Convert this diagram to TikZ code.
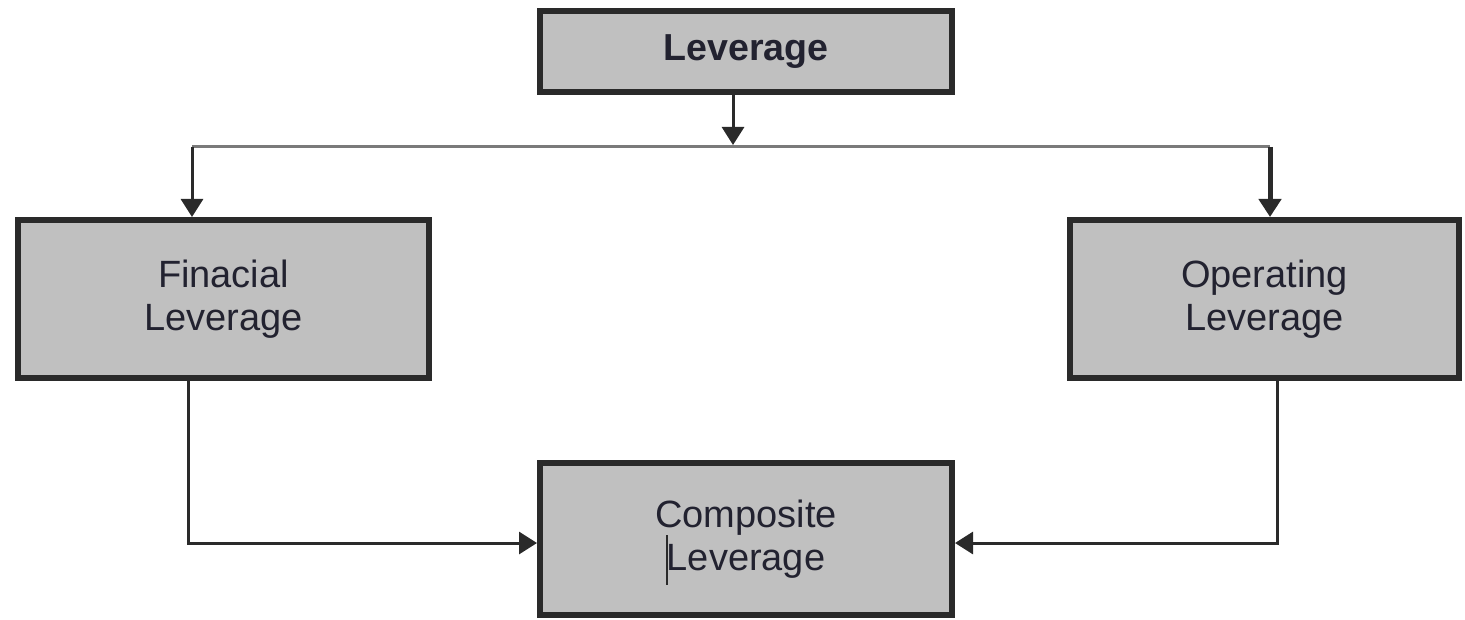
\documentclass[tikz,border=0pt]{standalone}
\usepackage{fontspec}
\setmainfont{Liberation Sans}
\usetikzlibrary{arrows.meta}
\definecolor{boxfill}{HTML}{C0C0C0}
\definecolor{boxline}{HTML}{2A2A2A}
\definecolor{txt}{HTML}{222230}
\definecolor{hline}{HTML}{7A7A7A}
\tikzset{
  lbox/.style={draw=boxline, fill=boxfill, line width=3pt, inner sep=0pt, align=center, text=txt, font=\fontsize{19}{21.5}\selectfont},
  conn/.style={draw=boxline, line width=1.5pt},
  arr/.style={conn, -{Triangle[width=11pt,length=9pt]}},
}
\begin{document}
\begin{tikzpicture}[x=0.5pt,y=-0.5pt]
\useasboundingbox (0,0) rectangle (1465,620);
\node[lbox, minimum width=206pt, minimum height=40.5pt, font=\fontsize{18.8}{21}\selectfont\bfseries] (lev) at (746,51.5) {Leverage};
\node[lbox, minimum width=205.5pt, minimum height=79pt] (fin) at (223.5,299) {Finacial\\Leverage};
\node[lbox, minimum width=194.5pt, minimum height=79pt] (ope) at (1264.5,299) {Operating\\Leverage};
\node[lbox, minimum width=206pt, minimum height=76pt] (com) at (746,539) {Composite\\Leverage};
\coordinate (split) at (733,147);
\coordinate (hl) at (192,147);
\coordinate (hr) at (1270,147);
\coordinate (bl) at (188,543);
\coordinate (br) at (1277,543);
% top arrow
\draw[arr] (lev.south -| split) -- ([yshift=1pt]split);
% horizontal bar
\draw[draw=hline, line width=1.5pt] (hl) -- (hr);
% drops
\draw[arr] (hl) -- (fin.north -| hl);
\draw[arr, line width=2.5pt] (hr) -- (ope.north -| hr);
% bottom connectors
\draw[arr] (fin.south -| bl) -- (bl) -- (com.west |- bl);
\draw[arr] (ope.south -| br) -- (br) -- (com.east |- br);
% cursor mark
\coordinate (c1) at (667,535);
\coordinate (c2) at (667,585);
\draw[boxline, line width=1pt] (c1) -- (c2);
\end{tikzpicture}
\end{document}
